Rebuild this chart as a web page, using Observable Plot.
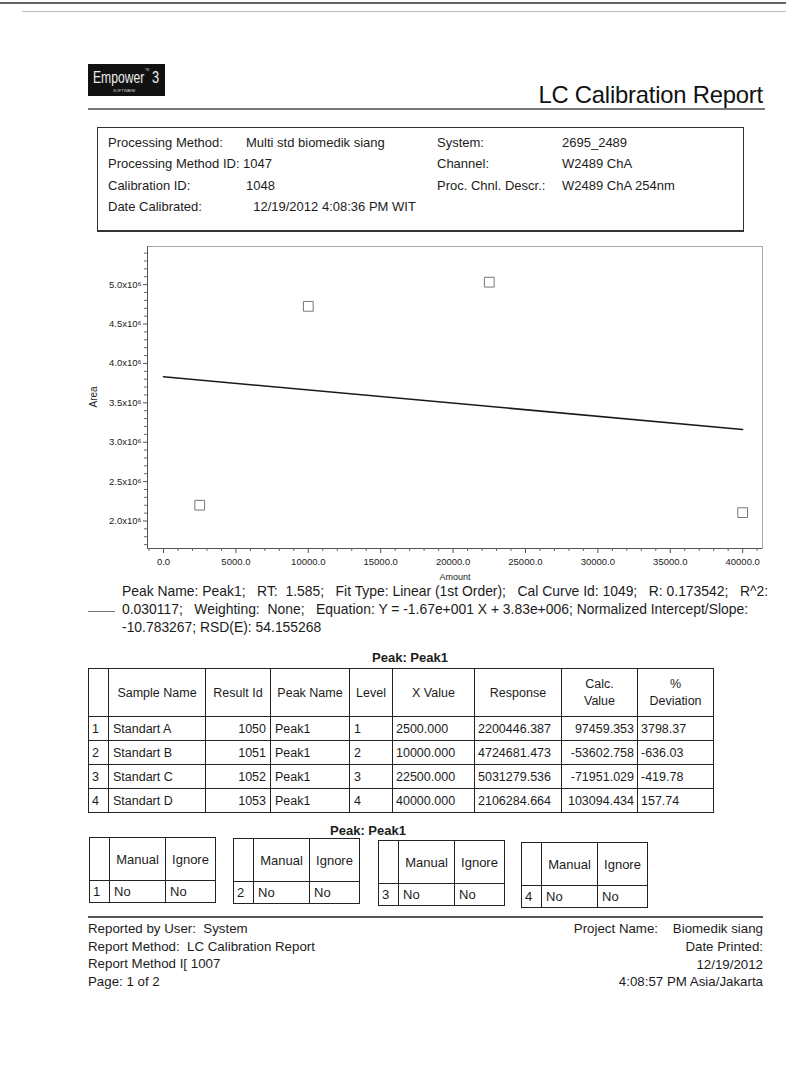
<!DOCTYPE html>
<html><head><meta charset="utf-8">
<script src="https://cdn.jsdelivr.net/npm/d3@7"></script>
<script src="https://cdn.jsdelivr.net/npm/@observablehq/plot@0.6"></script>
<style>
body{margin:0;background:#fff;font-family:"Liberation Sans",Arial,sans-serif;color:#1c1c1c;}
#page{position:relative;width:786px;height:1079px;overflow:hidden;background:#fff;}
.a{position:absolute;white-space:pre;line-height:1;}
.t{font-size:13px;}
table{border-collapse:collapse;table-layout:fixed;position:absolute;font-size:12.5px;}
td{border:1px solid #222;padding:0 4px;overflow:hidden;white-space:nowrap;}
.c{text-align:center;}
.r{text-align:right;}
.l{text-align:left;}
</style></head>
<body><div id="page"></div>
<script>
const amount = [2500, 10000, 22500, 40000];
const area = [2200446.387, 4724681.473, 5031279.536, 2106284.664];
const fitX = [0, 40000];
const fitY = [3830000, 3162000];
const xTicks = [0, 5000, 10000, 15000, 20000, 25000, 30000, 35000, 40000];
const xTickLabels = ["0.0","5000.0","10000.0","15000.0","20000.0","25000.0","30000.0","35000.0","40000.0"];
const yTicks = [2000000, 2500000, 3000000, 3500000, 4000000, 4500000, 5000000];
const yTickLabels = ["2.0x10\u2076","2.5x10\u2076","3.0x10\u2076","3.5x10\u2076","4.0x10\u2076","4.5x10\u2076","5.0x10\u2076"];
const xMinor = [-1000,1000,2000,3000,4000,6000,7000,8000,9000,11000,12000,13000,14000,16000,17000,18000,19000,21000,22000,23000,24000,26000,27000,28000,29000,31000,32000,33000,34000,36000,37000,38000,39000,41000];
const yMinor = [1700000,1800000,1900000,2100000,2200000,2300000,2400000,2600000,2700000,2800000,2900000,3100000,3200000,3300000,3400000,3600000,3700000,3800000,3900000,4100000,4200000,4300000,4400000,4600000,4700000,4800000,4900000,5100000,5200000,5300000,5400000];

const rowNums = [1, 2, 3, 4];
const sampleNames = ["Standart A", "Standart B", "Standart C", "Standart D"];
const resultIds = [1050, 1051, 1052, 1053];
const peakNames = ["Peak1", "Peak1", "Peak1", "Peak1"];
const levels = [1, 2, 3, 4];
const calcValues = ["97459.353", "-53602.758", "-71951.029", "103094.434"];
const deviations = ["3798.37", "-636.03", "-419.78", "157.74"];
const manualFlags = ["No", "No", "No", "No"];
const ignoreFlags = ["No", "No", "No", "No"];

const captionLines = [
  "Peak Name: Peak1;   RT:  1.585;   Fit Type: Linear (1st Order);   Cal Curve Id: 1049;   R: 0.173542;   R^2:",
  "0.030117;   Weighting:  None;   Equation: Y = -1.67e+001 X + 3.83e+006; Normalized Intercept/Slope:",
  "-10.783267; RSD(E): 54.155268"
];

const page = document.getElementById("page");
function add(html, style, cls = "a t") {
  const d = document.createElement("div");
  d.className = cls;
  d.innerHTML = html;
  Object.assign(d.style, style);
  page.appendChild(d);
  return d;
}

// scan edges at top
add("", {left:"0px", top:"2px", width:"786px", height:"2px", background:"#666"}, "a");
add("", {left:"22px", top:"11px", width:"764px", height:"1px", background:"#bbb"}, "a");

// header
add("", {left:"88px", top:"64px", width:"77px", height:"32px", background:"#111"}, "a");
add("Empower", {left:"93px", top:"70px", fontSize:"16px", color:"#eee", transform:"scaleX(0.76)", transformOrigin:"left top"}, "a");
add("3", {left:"152px", top:"70px", fontSize:"16px", color:"#eee", transform:"scaleX(0.8)", transformOrigin:"left top"}, "a");
add("TM", {left:"145px", top:"69px", fontSize:"3px", color:"#ccc"}, "a");
add("SOFTWARE", {left:"113px", top:"89px", fontSize:"4px", color:"#ccc"}, "a");
add("LC Calibration Report", {right:"23px", top:"83px", fontSize:"23.8px", color:"#111", letterSpacing:"-0.2px"}, "a");
add("", {left:"88px", top:"108px", width:"677px", height:"2px", background:"#777"}, "a");

// info box
add("", {left:"97px", top:"127px", width:"645px", height:"102px", border:"1px solid #333", borderBottom:"2px solid #333"}, "a");
const infoRows = [
  ["Processing Method:", "Multi std biomedik siang", "System:", "2695_2489"],
  ["Processing Method ID: 1047", "", "Channel:", "W2489 ChA"],
  ["Calibration ID:", "1048", "Proc. Chnl. Descr.:", "W2489 ChA 254nm"],
  ["Date Calibrated:", "  12/19/2012 4:08:36 PM WIT", "", ""]
];
infoRows.forEach((r, i) => {
  const top = (136 + i * 21.3) + "px";
  add(r[0], {left:"108px", top});
  add(r[1], {left:"246px", top});
  add(r[2], {left:"437px", top});
  add(r[3], {left:"562px", top});
});

// chart
const points = amount.map((a, i) => ({amount: a, area: area[i]}));
const fit = fitX.map((x, i) => ({x, y: fitY[i]}));
const xLab = new Map(xTicks.map((t, i) => [t, xTickLabels[i]]));
const yLab = new Map(yTicks.map((t, i) => [t, yTickLabels[i]]));
const xDom = [-1105, 41370];
const yDom = [1651000, 5484000];
const chart = Plot.plot({
  width: 690, height: 354,
  marginLeft: 67, marginRight: 8, marginTop: 10, marginBottom: 42,
  style: {fontFamily: '"Liberation Sans", Arial, sans-serif', fontSize: "9.5px", color: "#222", background: "transparent", overflow: "visible"},
  x: {domain: xDom},
  y: {domain: yDom},
  marks: [
    Plot.frame({stroke: "#a8a8a8"}),
    Plot.ruleX([xDom[0]], {stroke: "#555"}),
    Plot.ruleY([yDom[0]], {stroke: "#555"}),
    Plot.axisX({ticks: xMinor, tickSize: 3, tickFormat: () => "", label: null, stroke: "#666"}),
    Plot.axisX({ticks: xTicks, tickSize: 5, tickPadding: 5, tickFormat: d => xLab.get(d), label: null, stroke: "#555"}),
    Plot.axisY({ticks: yMinor, tickSize: 3, tickFormat: () => "", label: null, stroke: "#666"}),
    Plot.axisY({ticks: yTicks, tickSize: 4, tickPadding: 2, tickFormat: d => yLab.get(d), label: null, stroke: "#555"}),
    Plot.line(fit, {x: "x", y: "y", stroke: "#1a1a1a", strokeWidth: 1.6}),
    Plot.dot(points, {x: "amount", y: "area", symbol: "square", r: 5.5, fill: "white", stroke: "#777", strokeWidth: 1}),
    Plot.text(["Area"], {text: d => d, frameAnchor: "left", dx: -54, dy: 10, rotate: -90, fontSize: 10, fill: "#222"}),
    Plot.text(["Amount"], {text: d => d, frameAnchor: "bottom", dy: 31, fontSize: 9, fill: "#222"})
  ]
});
const holder = document.createElement("div");
holder.style.position = "absolute";
holder.style.left = "80px";
holder.style.top = "236px";
holder.appendChild(chart);
page.appendChild(holder);

// caption
add("", {left:"88px", top:"611px", width:"27px", height:"1px", background:"#777"}, "a");
captionLines.forEach((s, i) => add(s, {left:"122px", top: (585 + i * 18) + "px", fontSize:"13.9px"}));

// table 1
add("<b>Peak: Peak1</b>", {left:"0px", width:"820px", top:"651px", fontSize:"13px", textAlign:"center"}, "a");
const colW = [20, 97, 65, 79, 43, 82, 87, 76, 76];
let h = "<colgroup>" + colW.map(w => `<col style="width:${w}px">`).join("") + "</colgroup>";
h += `<tr style="height:48px"><td></td><td class="c">Sample Name</td><td class="c">Result Id</td><td class="c">Peak Name</td><td class="c">Level</td><td class="c">X Value</td><td class="c">Response</td><td class="c" style="line-height:17px">Calc.<br>Value</td><td class="c" style="line-height:17px">%<br>Deviation</td></tr>`;
rowNums.forEach((n, i) => {
  h += `<tr style="height:24px"><td class="l" style="padding:0 3px">${n}</td><td>${sampleNames[i]}</td><td class="r">${resultIds[i]}</td><td>${peakNames[i]}</td><td>${levels[i]}</td><td style="padding:0 3px">${amount[i].toFixed(3)}</td><td style="padding:0 3px">${area[i].toFixed(3)}</td><td class="r" style="padding:0 3px">${calcValues[i]}</td><td style="padding:0 3px">${deviations[i]}</td></tr>`;
});
const t1 = document.createElement("table");
t1.innerHTML = h;
Object.assign(t1.style, {left:"88px", top:"668px", width:"625px", border:"1.5px solid #222"});
page.appendChild(t1);

// table 2 (four small blocks)
add("<b>Peak: Peak1</b>", {left:"0px", width:"736px", top:"824px", fontSize:"13px", textAlign:"center"}, "a");
const smallLeft = [89, 233, 378, 521];
const smallTop = [837, 838, 840, 842];
rowNums.forEach((n, i) => {
  const t = document.createElement("table");
  t.innerHTML = `<colgroup><col style="width:20px"><col style="width:56px"><col style="width:50px"></colgroup>` +
    `<tr style="height:43px"><td></td><td class="c">Manual</td><td class="c">Ignore</td></tr>` +
    `<tr style="height:22px"><td style="padding:0 3px">${n}</td><td>${manualFlags[i]}</td><td>${ignoreFlags[i]}</td></tr>`;
  Object.assign(t.style, {left: smallLeft[i] + "px", top: smallTop[i] + "px", width:"126px", border:"1.5px solid #222", fontSize:"13px"});
  page.appendChild(t);
});

// footer
add("", {left:"88px", top:"916px", width:"675px", height:"2px", background:"#555"}, "a");
["Reported by User:  System", "Report Method:  LC Calibration Report", "Report Method I[ 1007", "Page: 1 of 2"].forEach((s, i) => {
  add(s, {left:"88px", top: (922 + i * 17.5) + "px", fontSize:"13.3px"});
});
add("Project Name:    Biomedik siang", {right:"23px", top:"922px", fontSize:"13.3px"});
["Date Printed:", "12/19/2012", "4:08:57 PM Asia/Jakarta"].forEach((s, i) => {
  add(s, {right:"23px", top: (940 + i * 17.5) + "px", textAlign:"right", fontSize:"13.3px"});
});
</script>
</body></html>
